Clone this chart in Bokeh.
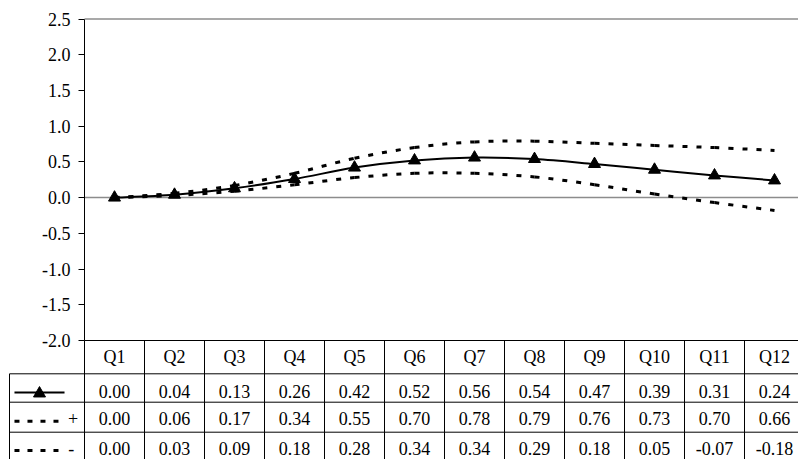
from bokeh.plotting import figure
from bokeh.models import Range1d, FixedTicker, PrintfTickFormatter, ColumnDataSource
from bokeh.core.properties import value
from bokeh.embed import file_html
from bokeh.resources import INLINE

# ---- data -------------------------------------------------------------
quarters = ["Q1", "Q2", "Q3", "Q4", "Q5", "Q6", "Q7", "Q8", "Q9", "Q10", "Q11", "Q12"]
estimate = [0.00, 0.04, 0.13, 0.26, 0.42, 0.52, 0.56, 0.54, 0.47, 0.39, 0.31, 0.24]
upper = [0.00, 0.06, 0.17, 0.34, 0.55, 0.70, 0.78, 0.79, 0.76, 0.73, 0.70, 0.66]
lower = [0.00, 0.03, 0.09, 0.18, 0.28, 0.34, 0.34, 0.29, 0.18, 0.05, -0.07, -0.18]
y_ticks = [-2.0, -1.5, -1.0, -0.5, 0.0, 0.5, 1.0, 1.5, 2.0, 2.5]

FONT_NAME = "Liberation Serif"
FONT = value(FONT_NAME)
FONT_SIZE = "18px"
GRAY = "#8c8c8c"

ncol = len(quarters)
# category centres (one table column per quarter)
xc = [i + 0.5 for i in range(ncol)]


def smooth_segments(xs, ys, tension=1.0 / 6.0):
    """Cubic Bezier pieces through the points (Catmull-Rom style smoothing)."""
    n = len(xs)
    seg = dict(x0=[], y0=[], x1=[], y1=[], cx0=[], cy0=[], cx1=[], cy1=[])
    for i in range(n - 1):
        ip, inn = max(i - 1, 0), min(i + 2, n - 1)
        seg["x0"].append(xs[i])
        seg["y0"].append(ys[i])
        seg["x1"].append(xs[i + 1])
        seg["y1"].append(ys[i + 1])
        seg["cx0"].append(xs[i] + (xs[i + 1] - xs[ip]) * tension)
        seg["cy0"].append(ys[i] + (ys[i + 1] - ys[ip]) * tension)
        seg["cx1"].append(xs[i + 1] - (xs[inn] - xs[i]) * tension)
        seg["cy1"].append(ys[i + 1] - (ys[inn] - ys[i]) * tension)
    return ColumnDataSource(seg)


# ---- figure -------------------------------------------------------------
# x: one unit per table column, 0 = left edge of the plot area.
# y: value scale (-2.0 .. 2.5 inside the plot area); the data table below it
#    uses the "table" range (pixel-like, 0 = table top, growing downwards).
p = figure(width=798, height=459, output_backend="svg", toolbar_location=None,
           x_range=Range1d(-1.4, 11.9), y_range=Range1d(-3.666, 2.759),
           x_axis_location=None, min_border=0)
p.extra_y_ranges = {"table": Range1d(119, -340)}
p.outline_line_color = None
p.background_fill_color = "white"
p.border_fill_color = "white"
p.grid.visible = False

yax = p.yaxis[0]
yax.fixed_location = 0
yax.ticker = FixedTicker(ticks=y_ticks)
yax.formatter = PrintfTickFormatter(format="%.1f")
yax.bounds = (-2.0, 2.5)
yax.axis_line_color = "black"
yax.major_tick_line_color = "black"
yax.major_tick_in = 0
yax.major_tick_out = 6
yax.minor_tick_line_color = None
yax.major_label_standoff = 8
yax.major_label_text_font = FONT_NAME
yax.major_label_text_font_size = FONT_SIZE
yax.major_label_text_color = "black"

# zero line and top edge of the plot area
p.segment(x0=[0, 0], x1=[ncol, ncol], y0=[0.0, 2.5], y1=[0.0, 2.5],
          line_color=GRAY, line_width=1.5)

# series
p.bezier(x0="x0", y0="y0", x1="x1", y1="y1", cx0="cx0", cy0="cy0", cx1="cx1", cy1="cy1",
         source=smooth_segments(xc, upper), line_color="black", line_width=3, line_dash="5 9")
p.bezier(x0="x0", y0="y0", x1="x1", y1="y1", cx0="cx0", cy0="cy0", cx1="cx1", cy1="cy1",
         source=smooth_segments(xc, lower), line_color="black", line_width=3, line_dash="5 9")
p.bezier(x0="x0", y0="y0", x1="x1", y1="y1", cx0="cx0", cy0="cy0", cx1="cx1", cy1="cy1",
         source=smooth_segments(xc, estimate), line_color="black", line_width=2)
p.scatter(xc, estimate, marker="triangle", size=12, color="black")

# ---- data table -------------------------------------------------------
TBL = "table"
header_h = 33
row_lines = [33.3, 61.7, 91.7]
row_text_y = [51, 78, 107.5]
table_bottom = 119
legend_left = -1.25

# plot-area bottom edge / table top, then the row rules
p.segment(x0=[0], x1=[ncol], y0=[0], y1=[0], y_range_name=TBL,
          line_color="black", line_width=1)
p.segment(x0=[legend_left] * len(row_lines), x1=[ncol] * len(row_lines),
          y0=row_lines, y1=row_lines, y_range_name=TBL, line_color="black", line_width=1)
# column separators
bx = list(range(0, ncol + 1))
p.segment(x0=bx, x1=bx, y0=[0] * len(bx), y1=[table_bottom] * len(bx), y_range_name=TBL,
          line_color="black", line_width=1)
p.segment(x0=[legend_left], x1=[legend_left], y0=[row_lines[0]], y1=[table_bottom],
          y_range_name=TBL, line_color="black", line_width=1)

# header row and values
p.text(x=xc, y=[header_h / 2] * ncol, text=quarters, y_range_name=TBL,
       text_font=FONT, text_font_size=FONT_SIZE, text_color="black",
       text_align="center", text_baseline="middle")
for series, ty in zip([estimate, upper, lower], row_text_y):
    p.text(x=xc, y=[ty] * ncol, text=[f"{v:.2f}" for v in series], y_range_name=TBL,
           text_font=FONT, text_font_size=FONT_SIZE, text_color="black",
           text_align="center", text_baseline="middle")

# legend keys in the first column
p.segment(x0=[-1.167], x1=[-0.333], y0=[52], y1=[52], y_range_name=TBL,
          line_color="black", line_width=2)
p.scatter([-0.75], [53], y_range_name=TBL, marker="triangle", size=12, color="black")
p.segment(x0=[-1.167, -1.167], x1=[-0.39, -0.39], y0=[80.7, 110], y1=[80.7, 110],
          y_range_name=TBL, line_color="black", line_width=3, line_dash="5 8")
p.text(x=[-0.19, -0.22], y=[78, 107.5], text=["+", "-"], y_range_name=TBL,
       text_font=FONT, text_font_size=FONT_SIZE, text_color="black",
       text_align="center", text_baseline="middle")

open("out.html", "w").write(file_html(p, INLINE))
